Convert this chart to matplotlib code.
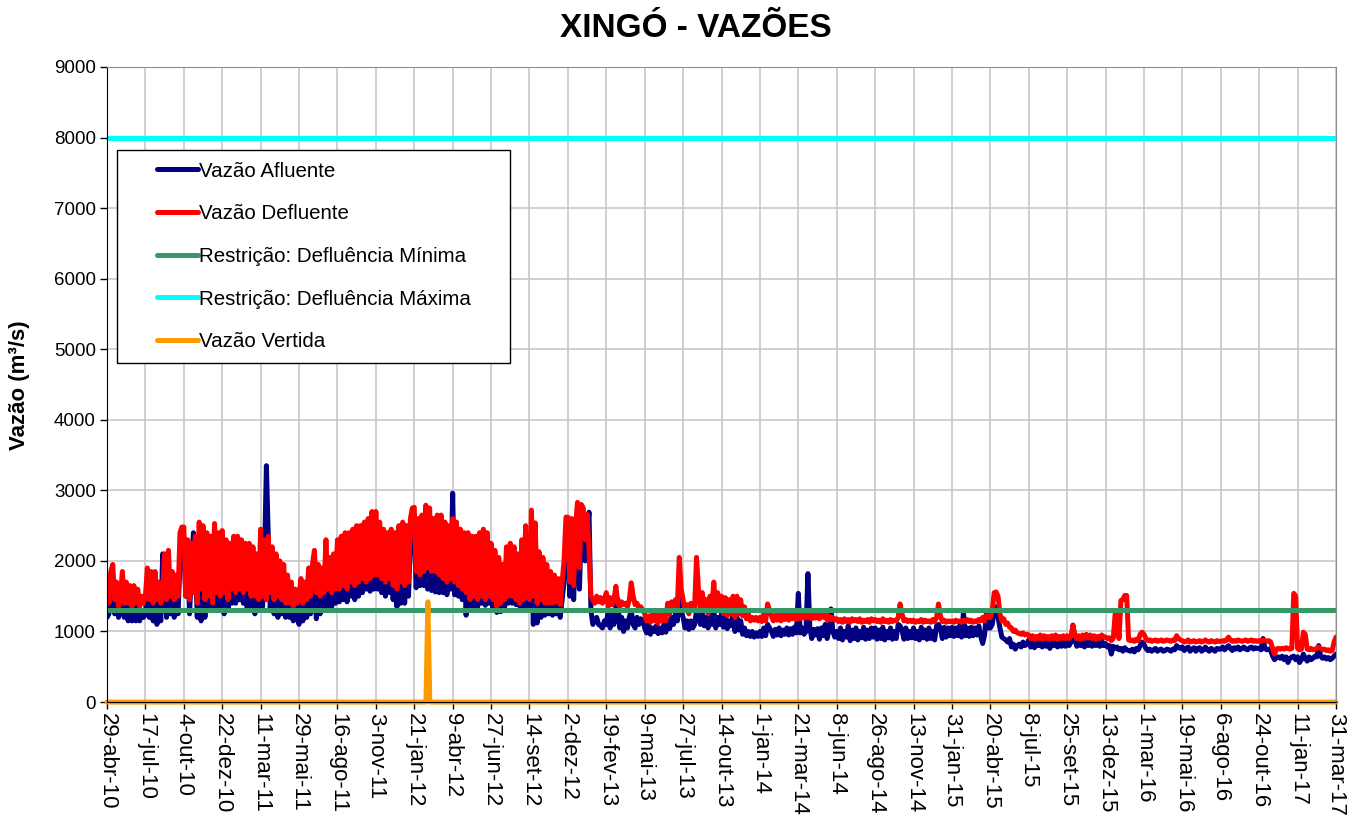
import numpy as np
import pandas as pd
import matplotlib
matplotlib.use("Agg")
import matplotlib.pyplot as plt
from matplotlib.patches import Rectangle

plt.rcParams['font.family'] = ['Liberation Sans', 'DejaVu Sans']

inicio = "2010-04-29"
fim = "2017-03-31"

# rotulos do eixo x, um a cada 79 dias
rotulos_x = ["29-abr-10", "17-jul-10", "4-out-10", "22-dez-10", "11-mar-11", "29-mai-11",
             "16-ago-11", "3-nov-11", "21-jan-12", "9-abr-12", "27-jun-12", "14-set-12",
             "2-dez-12", "19-fev-13", "9-mai-13", "27-jul-13", "14-out-13", "1-jan-14",
             "21-mar-14", "8-jun-14", "26-ago-14", "13-nov-14", "31-jan-15", "20-abr-15",
             "8-jul-15", "25-set-15", "13-dez-15", "1-mar-16", "19-mai-16", "6-ago-16",
             "24-out-16", "11-jan-17", "31-mar-17"]

# vazoes (m3/s), 20 amostras por intervalo do eixo x
afluente = [
    1200, 1250, 1700, 1750, 1250, 1550, 1200, 1300, 1650, 1200, 1500, 1150, 1450, 1150, 1450, 1150, 1400, 1150, 1300, 1200,
    1250, 1650, 1200, 1600, 1150, 1500, 1100, 1400, 1150, 2100, 1900, 1200, 1900, 1250, 1600, 1200, 1550, 1250, 2000, 2200,
    2200, 1500, 2000, 1250, 1900, 2400, 2000, 1200, 2200, 1150, 2100, 1200, 2000, 1300, 1950, 1350, 2100, 1300, 2000, 1350,
    2100, 1250, 1900, 1300, 1950, 1400, 2000, 1400, 2000, 1450, 1950, 1400, 1900, 1300, 1850, 1300, 1800, 1250, 1750, 1300,
    2100, 1350, 2000, 3350, 2300, 1300, 1950, 1250, 1850, 1200, 1800, 1250, 1700, 1200, 1550, 1200, 1450, 1150, 1400, 1200,
    1100, 1450, 1150, 1400, 1200, 1550, 1250, 1650, 1850, 1180, 1650, 1250, 1600, 1300, 1900, 1350, 1750, 1350, 1800, 1400,
    2000, 1420, 2050, 1450, 2100, 1420, 2100, 1500, 2150, 1450, 2200, 1500, 2200, 1550, 2250, 1600, 2300, 1570, 2400, 1600,
    2350, 1600, 2200, 1550, 2100, 1500, 2050, 1550, 2100, 1450, 2100, 1350, 2150, 1400, 2200, 1400, 2200, 1500, 2300, 2400,
    2400, 1620, 2300, 1650, 2350, 1650, 2450, 1600, 2400, 1580, 2300, 1560, 2300, 1550, 2350, 1550, 2250, 1520, 2200, 1600,
    2960, 1520, 2300, 1500, 2200, 1450, 2150, 1230, 2100, 1300, 2050, 1350, 2050, 1350, 2100, 1400, 2150, 1370, 2100, 1400,
    1900, 1300, 1850, 1270, 1750, 1280, 1700, 1300, 1900, 1400, 1950, 1400, 1900, 1380, 1800, 1350, 1950, 1300, 2100, 1300,
    1300, 2350, 1100, 2200, 1120, 1850, 1200, 1750, 1230, 1700, 1250, 1600, 1230, 1550, 1250, 1500, 1200, 1450, 1700, 2300,
    2300, 1500, 2250, 1450, 2200, 2500, 1600, 2450, 2400, 2000, 2400, 2690, 1300, 1100, 1150, 1200, 1100, 1080, 1050, 1150,
    1100, 1300, 1050, 1250, 1100, 1350, 1460, 1050, 1200, 1000, 1150, 1050, 1200, 1300, 1100, 1050, 1200, 1100, 1180, 1150,
    1050, 980, 1100, 960, 1050, 1000, 1080, 970, 1050, 980, 1100, 990, 1150, 1040, 1200, 1100, 1250, 1150, 1500, 1300,
    1200, 1050, 1150, 1030, 1150, 1050, 1100, 1300, 1250, 1100, 1250, 1080, 1200, 1050, 1250, 1100, 1300, 1050, 1200, 1100,
    1250, 1060, 1200, 1040, 1150, 1080, 1250, 1000, 1200, 1020, 1150, 960, 1050, 940, 1000, 930, 1000, 920, 980, 930,
    1000, 930, 1050, 940, 1100, 1050, 1000, 930, 1030, 950, 1050, 940, 1020, 960, 1050, 950, 1040, 960, 1060, 980,
    1540, 980, 1050, 960, 1000, 1820, 1050, 900, 1030, 950, 1040, 890, 1050, 940, 1100, 900, 1020, 1320, 1000, 920,
    1000, 900, 1050, 880, 1000, 920, 1080, 870, 1020, 900, 1050, 880, 1000, 910, 1060, 890, 1020, 900, 1050, 920,
    1050, 890, 1020, 900, 1060, 880, 1000, 910, 1050, 890, 1000, 900, 1100, 1080, 1020, 890, 1050, 900, 1000, 910,
    1050, 900, 1000, 880, 1060, 910, 1020, 890, 1050, 900, 1000, 880, 1080, 1100, 1050, 900, 1060, 920, 1050, 940,
    1060, 930, 1050, 940, 1080, 920, 1275, 940, 1050, 930, 1060, 940, 1050, 950, 1080, 930, 830, 950, 1300, 1050,
    1050, 1100, 1300, 1350, 1200, 1050, 920, 900, 880, 850, 900, 780, 820, 750, 800, 820, 780, 850, 800, 820,
    880, 780, 860, 770, 890, 800, 870, 780, 850, 790, 870, 760, 880, 800, 860, 780, 870, 790, 850, 790,
    860, 800, 850, 1090, 880, 790, 870, 800, 860, 780, 880, 800, 870, 790, 860, 800, 880, 790, 870, 800,
    830, 780, 800, 680, 790, 760, 780, 740, 760, 720, 770, 740, 730, 720, 750, 710, 760, 740, 800, 850,
    820, 760, 730, 750, 720, 740, 760, 720, 740, 750, 720, 730, 750, 740, 720, 750, 740, 800, 770, 760,
    780, 730, 760, 780, 720, 750, 770, 720, 760, 770, 720, 740, 780, 740, 720, 760, 740, 720, 760, 750,
    750, 780, 740, 770, 800, 760, 730, 770, 750, 780, 740, 760, 780, 750, 740, 770, 780, 750, 770, 760,
    760, 740, 900, 760, 740, 750, 730, 650, 600, 630, 640, 620, 650, 600, 640, 560, 620, 640, 650, 600,
    640, 560, 600, 680, 620, 580, 640, 600, 620, 650, 640, 800, 650, 620, 640, 610, 630, 600, 620, 650,
    680]

defluente = [
    1800, 1400, 1850, 1950, 1450, 1700, 1350, 1500, 1850, 1400, 1700, 1400, 1650, 1350, 1650, 1400, 1600, 1350, 1500, 1400,
    1500, 1900, 1450, 1850, 1400, 1850, 1450, 1700, 1400, 1550, 2100, 1450, 2150, 1500, 1850, 1450, 1800, 1500, 2400, 2480,
    2480, 1500, 2300, 1450, 2250, 1550, 2350, 1400, 2550, 1600, 2500, 1450, 2400, 1500, 2350, 1400, 2530, 1550, 2400, 1500,
    2430, 1550, 2300, 1450, 2250, 1600, 2350, 1550, 2350, 1600, 2300, 1550, 2250, 1600, 2250, 1500, 2200, 1500, 2100, 1450,
    2450, 1500, 2300, 1450, 2350, 1550, 2200, 1450, 2100, 1500, 2000, 1450, 1950, 1400, 1800, 1400, 1700, 1350, 1600, 1400,
    1500, 1750, 1400, 1700, 1450, 1900, 1500, 1950, 2150, 1550, 1950, 1500, 1900, 1550, 2300, 1600, 2050, 1550, 2100, 1600,
    2300, 1600, 2350, 1650, 2400, 1600, 2400, 1700, 2450, 1650, 2500, 1700, 2500, 1750, 2550, 1700, 2600, 1750, 2700, 1800,
    2700, 1800, 2550, 1750, 2450, 1700, 2400, 1750, 2450, 1650, 2400, 1600, 2500, 1700, 2550, 1650, 2500, 1700, 2600, 2750,
    2760, 1850, 2600, 1800, 2650, 1850, 2790, 1900, 2750, 1850, 2600, 1850, 2650, 1800, 2650, 1750, 2550, 1700, 2500, 1750,
    2600, 1700, 2550, 1650, 2450, 1600, 2400, 1550, 2400, 1450, 2350, 1500, 2350, 1450, 2400, 1500, 2450, 1450, 2400, 1500,
    2250, 1450, 2150, 1350, 2050, 1400, 1950, 1450, 2200, 1500, 2250, 1500, 2200, 1450, 2100, 1400, 2300, 1450, 2500, 1500,
    1450, 2720, 1500, 2540, 1400, 2130, 1450, 2050, 1400, 1950, 1400, 1850, 1400, 1800, 1420, 1750, 1380, 1700, 2000, 2620,
    2620, 1700, 2600, 1650, 2500, 2830, 1900, 2800, 2750, 2300, 2660, 2170, 1500, 1450, 1400, 1500, 1420, 1480, 1400, 1450,
    1550, 1350, 1480, 1380, 1450, 1640, 1400, 1350, 1420, 1380, 1400, 1350, 1450, 1690, 1500, 1380, 1400, 1330, 1350, 1300,
    1250, 1150, 1220, 1130, 1250, 1150, 1230, 1120, 1250, 1150, 1300, 1150, 1400, 1250, 1420, 1300, 1450, 1350, 2050, 1600,
    1450, 1300, 1380, 1250, 1400, 1300, 1350, 2050, 1600, 1300, 1550, 1350, 1450, 1250, 1500, 1350, 1700, 1300, 1550, 1350,
    1500, 1250, 1480, 1220, 1450, 1250, 1500, 1200, 1500, 1250, 1450, 1220, 1350, 1180, 1250, 1150, 1200, 1160, 1200, 1150,
    1200, 1140, 1250, 1150, 1390, 1300, 1220, 1150, 1230, 1160, 1240, 1150, 1230, 1170, 1240, 1160, 1230, 1180, 1250, 1170,
    1230, 1180, 1250, 1190, 1240, 1200, 1250, 1180, 1240, 1190, 1230, 1180, 1240, 1200, 1250, 1160, 1220, 1170, 1200, 1160,
    1180, 1140, 1170, 1130, 1180, 1140, 1170, 1130, 1180, 1150, 1170, 1140, 1180, 1130, 1160, 1140, 1170, 1130, 1180, 1150,
    1170, 1140, 1160, 1130, 1180, 1140, 1160, 1130, 1170, 1140, 1160, 1150, 1200, 1390, 1250, 1150, 1170, 1140, 1160, 1140,
    1160, 1130, 1150, 1140, 1170, 1130, 1160, 1140, 1150, 1130, 1170, 1140, 1200, 1390, 1220, 1140, 1160, 1130, 1150, 1140,
    1150, 1130, 1160, 1140, 1150, 1130, 1160, 1140, 1170, 1140, 1160, 1130, 1150, 1140, 1170, 1150, 1200, 1150, 1230, 1200,
    1200, 1300, 1550, 1560, 1500, 1250, 1150, 1180, 1100, 1120, 1060, 1050, 1000, 1020, 980, 970, 960, 980, 950, 960,
    950, 900, 940, 890, 930, 900, 950, 890, 940, 900, 930, 890, 940, 900, 950, 890, 930, 900, 940, 900,
    940, 900, 930, 1080, 960, 900, 940, 890, 950, 900, 960, 910, 950, 900, 940, 890, 930, 900, 950, 920,
    920, 900, 910, 870, 900, 1250, 1250, 900, 1440, 1450, 1510, 1510, 880, 870, 880, 860, 890, 870, 960, 990,
    960, 900, 870, 880, 860, 870, 880, 860, 870, 880, 860, 870, 880, 870, 860, 880, 870, 940, 900, 880,
    870, 850, 860, 880, 850, 860, 870, 850, 860, 870, 850, 860, 880, 860, 850, 870, 860, 850, 870, 860,
    860, 870, 860, 880, 920, 880, 860, 870, 860, 880, 870, 860, 870, 880, 860, 870, 880, 860, 870, 860,
    870, 860, 880, 870, 860, 870, 850, 760, 680, 750, 760, 750, 760, 750, 770, 760, 750, 760, 1540, 1500,
    760, 740, 750, 990, 960, 750, 740, 760, 740, 750, 760, 780, 760, 740, 750, 730, 740, 720, 730, 850,
    920]

defl_minima = 1300
defl_maxima = 8000

vertida_datas = ["2010-04-29", "2012-02-14", "2012-02-18", "2012-02-22", "2017-03-31"]
vertida = [0, 0, 1420, 0, 0]

datas = pd.date_range(inicio, fim, periods=len(afluente))
ticks = pd.date_range(inicio, periods=len(rotulos_x), freq="79D")
limites = pd.to_datetime([inicio, fim])

fig = plt.figure(figsize=(13.58, 8.21), dpi=100)
ax = fig.add_axes([0.0788, 0.1449, 0.905, 0.7735])

estilo = dict(lw=3.6, solid_capstyle='round', solid_joinstyle='round')
ax.plot(datas, afluente, color='#000080', label='Vazão Afluente', **estilo)
ax.plot(datas, defluente, color='#ff0000', label='Vazão Defluente', **estilo)
ax.plot(limites, [defl_minima, defl_minima], color='#339966', label='Restrição: Defluência Mínima', **estilo)
ax.plot(limites, [defl_maxima, defl_maxima], color='#00ffff', label='Restrição: Defluência Máxima', **estilo)
ax.plot(pd.to_datetime(vertida_datas), vertida, color='#ff9900', label='Vazão Vertida',
        clip_on=False, **estilo)

ax.set_xlim(limites[0], limites[1])
ax.set_ylim(0, 9000)
ax.set_yticks(np.arange(0, 9001, 1000))
ax.set_xticks(ticks)
ax.set_xticklabels(rotulos_x, rotation=270, fontsize=16, ha='center', va='top')
ax.tick_params(axis='y', labelsize=13.5)
ax.tick_params(axis='both', direction='out', length=5, width=1, color='black', pad=3)

ax.grid(True, color='#c8c8c8', lw=1.2)
ax.set_axisbelow(True)
for lado in ['top', 'right']:
    ax.spines[lado].set_color('#909090')
for lado in ['left', 'bottom']:
    ax.spines[lado].set_color('black')

fig.text(0.5125, 0.965, 'XINGÓ - VAZÕES', fontsize=24, fontweight='bold', ha='center', va='center')
fig.text(0.0140, 0.531, 'Vazão (m³/s)', fontsize=16, fontweight='bold', rotation=90,
         ha='center', va='center')

# caixa da legenda
ax.add_patch(Rectangle((0.00814, 0.5339), 0.3198, 0.3354, transform=ax.transAxes,
                       facecolor='white', edgecolor='black', lw=1, zorder=5))
leg = ax.legend(loc='upper left', bbox_to_anchor=(0.0407, 0.851), frameon=False,
                fontsize=14.8, handlelength=2.0, handletextpad=0.05, labelspacing=1.15,
                borderpad=0, borderaxespad=0)
leg.set_zorder(6)

fig.savefig('out.png', dpi=100)
